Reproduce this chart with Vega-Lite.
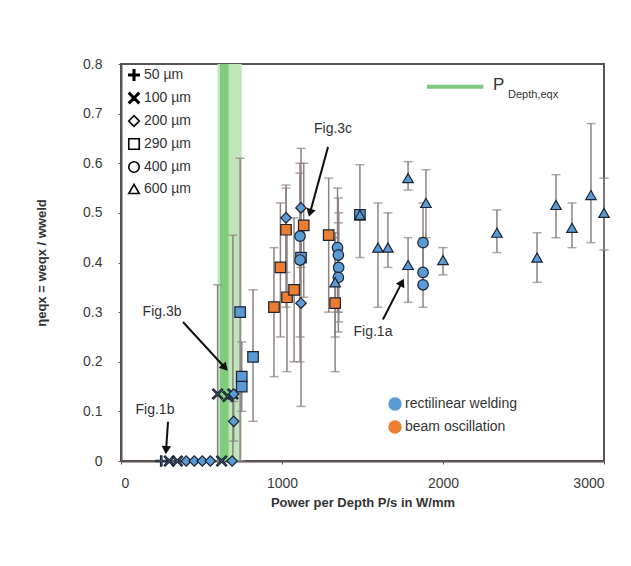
{
  "$schema": "https://vega.github.io/schema/vega-lite/v6.json",
  "width": 483,
  "height": 397,
  "autosize": "none",
  "padding": {"left": 121, "top": 64, "right": 27, "bottom": 105},
  "background": "white",
  "config": {
    "font": "Liberation Sans",
    "view": {"stroke": "#5b5353", "strokeWidth": 2},
    "axis": {"grid": false, "domainColor": "#5b5353", "domainWidth": 2, "tickColor": "#5b5353", "tickSize": 3, "labelFontSize": 14, "labelColor": "#3a3a3a", "titleFontSize": 13, "titleFontWeight": "bold", "titleColor": "#333333"}
  },
  "datasets": {
    "pts": [
      {"x": 250, "y": 0, "s": "50 µm", "p": "rectilinear welding"},
      {"x": 300, "y": 0, "s": "100 µm", "p": "rectilinear welding"},
      {"x": 350, "y": 0, "s": "100 µm", "p": "rectilinear welding"},
      {"x": 405, "y": 0, "s": "200 µm", "p": "rectilinear welding"},
      {"x": 455, "y": 0, "s": "200 µm", "p": "rectilinear welding"},
      {"x": 505, "y": 0, "s": "200 µm", "p": "rectilinear welding"},
      {"x": 555, "y": 0, "s": "200 µm", "p": "rectilinear welding"},
      {"x": 625, "y": 0, "s": "100 µm", "p": "rectilinear welding"},
      {"x": 690, "y": 0, "s": "200 µm", "p": "rectilinear welding"},
      {"x": 600, "y": 0.135, "lo": 0, "hi": 0.355, "s": "100 µm", "p": "rectilinear welding"},
      {"x": 665, "y": 0.13, "s": "100 µm", "p": "rectilinear welding"},
      {"x": 695, "y": 0.135, "lo": 0, "hi": 0.455, "s": "100 µm", "p": "rectilinear welding"},
      {"x": 700, "y": 0.135, "s": "200 µm", "p": "rectilinear welding"},
      {"x": 700, "y": 0.08, "lo": 0.04, "hi": 0.12, "s": "200 µm", "p": "rectilinear welding"},
      {"x": 740, "y": 0.30, "lo": 0, "hi": 0.61, "s": "290 µm", "p": "rectilinear welding"},
      {"x": 750, "y": 0.17, "lo": 0.1, "hi": 0.24, "s": "290 µm", "p": "rectilinear welding"},
      {"x": 750, "y": 0.15, "s": "290 µm", "p": "rectilinear welding"},
      {"x": 820, "y": 0.21, "lo": 0.08, "hi": 0.345, "s": "290 µm", "p": "rectilinear welding"},
      {"x": 950, "y": 0.31, "lo": 0.17, "hi": 0.43, "s": "290 µm", "p": "beam oscillation"},
      {"x": 990, "y": 0.39, "lo": 0.25, "hi": 0.52, "s": "290 µm", "p": "beam oscillation"},
      {"x": 1025, "y": 0.466, "lo": 0.31, "hi": 0.55, "s": "290 µm", "p": "beam oscillation"},
      {"x": 1031, "y": 0.33, "lo": 0.18, "hi": 0.47, "s": "290 µm", "p": "beam oscillation"},
      {"x": 1075, "y": 0.345, "lo": 0.2, "hi": 0.49, "s": "290 µm", "p": "beam oscillation"},
      {"x": 1135, "y": 0.475, "lo": 0.33, "hi": 0.6, "s": "290 µm", "p": "beam oscillation"},
      {"x": 1290, "y": 0.455, "lo": 0.3, "hi": 0.57, "s": "290 µm", "p": "beam oscillation"},
      {"x": 1330, "y": 0.318, "lo": 0.18, "hi": 0.46, "s": "290 µm", "p": "beam oscillation"},
      {"x": 1025, "y": 0.49, "lo": 0.38, "hi": 0.556, "s": "200 µm", "p": "rectilinear welding"},
      {"x": 1118, "y": 0.51, "lo": 0.39, "hi": 0.63, "s": "200 µm", "p": "rectilinear welding"},
      {"x": 1112, "y": 0.453, "lo": 0.25, "hi": 0.6, "s": "400 µm", "p": "rectilinear welding"},
      {"x": 1118, "y": 0.41, "s": "290 µm", "p": "rectilinear welding"},
      {"x": 1112, "y": 0.405, "lo": 0.2, "hi": 0.58, "s": "400 µm", "p": "rectilinear welding"},
      {"x": 1118, "y": 0.318, "lo": 0.11, "hi": 0.45, "s": "200 µm", "p": "rectilinear welding"},
      {"x": 1345, "y": 0.43, "lo": 0.3, "hi": 0.55, "s": "400 µm", "p": "rectilinear welding"},
      {"x": 1350, "y": 0.415, "lo": 0.3, "hi": 0.53, "s": "400 µm", "p": "rectilinear welding"},
      {"x": 1352, "y": 0.39, "lo": 0.28, "hi": 0.5, "s": "400 µm", "p": "rectilinear welding"},
      {"x": 1350, "y": 0.37, "lo": 0.26, "hi": 0.48, "s": "400 µm", "p": "rectilinear welding"},
      {"x": 1330, "y": 0.36, "lo": 0.25, "hi": 0.45, "s": "600 µm", "p": "rectilinear welding"},
      {"x": 1484, "y": 0.496, "lo": 0.41, "hi": 0.597, "s": "290 µm", "p": "rectilinear welding"},
      {"x": 1484, "y": 0.496, "s": "600 µm", "p": "rectilinear welding"},
      {"x": 1596, "y": 0.43, "lo": 0.31, "hi": 0.52, "s": "600 µm", "p": "rectilinear welding"},
      {"x": 1658, "y": 0.43, "lo": 0.39, "hi": 0.5, "s": "600 µm", "p": "rectilinear welding"},
      {"x": 1783, "y": 0.57, "lo": 0.546, "hi": 0.603, "s": "600 µm", "p": "rectilinear welding"},
      {"x": 1894, "y": 0.52, "lo": 0.45, "hi": 0.587, "s": "600 µm", "p": "rectilinear welding"},
      {"x": 1783, "y": 0.395, "lo": 0.32, "hi": 0.45, "s": "600 µm", "p": "rectilinear welding"},
      {"x": 2000, "y": 0.405, "lo": 0.375, "hi": 0.43, "s": "600 µm", "p": "rectilinear welding"},
      {"x": 2335, "y": 0.46, "lo": 0.42, "hi": 0.506, "s": "600 µm", "p": "rectilinear welding"},
      {"x": 2584, "y": 0.41, "lo": 0.36, "hi": 0.46, "s": "600 µm", "p": "rectilinear welding"},
      {"x": 2702, "y": 0.516, "lo": 0.45, "hi": 0.577, "s": "600 µm", "p": "rectilinear welding"},
      {"x": 2801, "y": 0.47, "lo": 0.43, "hi": 0.52, "s": "600 µm", "p": "rectilinear welding"},
      {"x": 2919, "y": 0.536, "lo": 0.44, "hi": 0.68, "s": "600 µm", "p": "rectilinear welding"},
      {"x": 3000, "y": 0.5, "lo": 0.425, "hi": 0.57, "s": "600 µm", "p": "rectilinear welding"},
      {"x": 1876, "y": 0.44, "lo": 0.36, "hi": 0.52, "s": "400 µm", "p": "rectilinear welding"},
      {"x": 1876, "y": 0.38, "s": "400 µm", "p": "rectilinear welding"},
      {"x": 1876, "y": 0.355, "lo": 0.31, "hi": 0.45, "s": "400 µm", "p": "rectilinear welding"}
    ],
    "band": [
      {"x": 600, "x2": 750, "k": "light"},
      {"x": 615, "x2": 668, "k": "dark"}
    ],
    "ann": [
      {"x": 1317, "y": 0.67, "t": "Fig.3c"},
      {"x": 255, "y": 0.30, "t": "Fig.3b"},
      {"x": 211, "y": 0.103, "t": "Fig.1b"},
      {"x": 1565, "y": 0.26, "t": "Fig.1a"}
    ],
    "arrows": [
      {"x": 1286, "y": 0.633, "x2": 1174, "y2": 0.5, "a": 195},
      {"x": 385, "y": 0.28, "x2": 646, "y2": 0.188, "a": 138},
      {"x": 292, "y": 0.079, "x2": 280, "y2": 0.022, "a": 184},
      {"x": 1627, "y": 0.285, "x2": 1745, "y2": 0.36, "a": 27}
    ],
    "pleg": [
      {"x": 1900, "x2": 2250, "y": 0.754}
    ]
  },
  "layer": [
    {
      "data": {"name": "band"},
      "mark": {"type": "rect", "clip": true},
      "encoding": {
        "x": {"field": "x", "type": "quantitative", "scale": {"domain": [0, 3000], "nice": false}, "title": "Power per Depth P/s in W/mm"},
        "x2": {"field": "x2"},
        "y": {"datum": 0, "title": "ηeqx = weqx / wweld"},
        "y2": {"datum": 0.8},
        "color": {"field": "k", "type": "nominal", "scale": {"domain": ["light", "dark"], "range": ["#bfe5bb", "#7fcc7c"]}, "legend": null}
      }
    },
    {
      "data": {"name": "pts"},
      "transform": [{"filter": "isValid(datum.lo)"}],
      "mark": {"type": "errorbar", "ticks": {"size": 9, "color": "#8c8282", "thickness": 1.5}, "rule": {"color": "#8c8282", "strokeWidth": 1.5}},
      "encoding": {
        "x": {"field": "x", "type": "quantitative", "title": "Power per Depth P/s in W/mm"},
        "y": {"field": "lo", "type": "quantitative", "title": "ηeqx = weqx / wweld"},
        "y2": {"field": "hi"}
      }
    },
    {
      "data": {"name": "pts"},
      "mark": {"type": "point", "filled": true, "size": 110, "stroke": "#1c2230", "strokeWidth": 1.2, "opacity": 1},
      "encoding": {
        "x": {"field": "x", "type": "quantitative", "title": "Power per Depth P/s in W/mm",
              "axis": {"values": [0, 1000, 2000, 3000], "format": "d", "labelPadding": 12, "titlePadding": 6}},
        "y": {"field": "y", "type": "quantitative", "title": "ηeqx = weqx / wweld",
              "scale": {"domain": [0, 0.8], "nice": false},
              "axis": {"values": [0, 0.1, 0.2, 0.3, 0.4, 0.5, 0.6, 0.7, 0.8], "labelPadding": 16, "titlePadding": 34, "labelExpr": "datum.value == 0 ? '0' : format(datum.value, '.1f')"}},
        "shape": {"field": "s", "type": "nominal",
                  "scale": {"domain": ["50 µm", "100 µm", "200 µm", "290 µm", "400 µm", "600 µm"],
                            "range": ["M-0.14,-1L0.14,-1L0.14,-0.14L1,-0.14L1,0.14L0.14,0.14L0.14,1L-0.14,1L-0.14,0.14L-1,0.14L-1,-0.14L-0.14,-0.14Z", "M-1,-0.8L-0.8,-1L0,-0.2L0.8,-1L1,-0.8L0.2,0L1,0.8L0.8,1L0,0.2L-0.8,1L-1,0.8L-0.2,0Z", "diamond", "square", "circle", "triangle-up"]},
                  "legend": {"orient": "none", "legendX": 6, "legendY": 4, "title": null, "labelFontSize": 14, "labelColor": "#333333", "symbolSize": 110, "symbolStrokeColor": "black", "symbolFillColor": "transparent", "symbolStrokeWidth": 1.6, "rowPadding": 5, "labelOffset": 3}},
        "fill": {"field": "p", "type": "nominal",
                 "scale": {"domain": ["rectilinear welding", "beam oscillation"], "range": ["#5b9bd5", "#ed7d31"]},
                 "legend": {"orient": "none", "legendX": 267, "legendY": 333, "title": null, "labelFontSize": 14, "labelColor": "#333333", "symbolType": "circle", "symbolSize": 180, "symbolStrokeWidth": 0, "rowPadding": 9, "labelOffset": 3}}
      }
    },
    {
      "data": {"name": "arrows"},
      "mark": {"type": "rule", "color": "#111111", "strokeWidth": 2},
      "encoding": {
        "x": {"field": "x", "type": "quantitative"},
        "y": {"field": "y", "type": "quantitative"},
        "x2": {"field": "x2"},
        "y2": {"field": "y2"}
      }
    },
    {
      "data": {"name": "arrows"},
      "mark": {"type": "point", "shape": "triangle-up", "filled": true, "color": "#111111", "size": 90, "opacity": 1},
      "encoding": {
        "x": {"field": "x2", "type": "quantitative"},
        "y": {"field": "y2", "type": "quantitative"},
        "angle": {"field": "a", "type": "quantitative", "scale": null}
      }
    },
    {
      "data": {"name": "ann"},
      "mark": {"type": "text", "fontSize": 14, "color": "#333333", "align": "center", "baseline": "middle"},
      "encoding": {
        "x": {"field": "x", "type": "quantitative"},
        "y": {"field": "y", "type": "quantitative"},
        "text": {"field": "t"}
      }
    },
    {
      "data": {"name": "pleg"},
      "mark": {"type": "rule", "color": "#7fc97f", "strokeWidth": 4},
      "encoding": {
        "x": {"field": "x", "type": "quantitative"},
        "x2": {"field": "x2"},
        "y": {"field": "y", "type": "quantitative"}
      }
    },
    {
      "data": {"values": [{"x": 2311, "y": 0.757, "t": "P", "f": 17}, {"x": 2404, "y": 0.738, "t": "Depth,eqx", "f": 11}]},
      "mark": {"type": "text", "color": "#333333", "align": "left", "baseline": "middle"},
      "encoding": {
        "x": {"field": "x", "type": "quantitative"},
        "y": {"field": "y", "type": "quantitative"},
        "text": {"field": "t"},
        "size": {"field": "f", "type": "quantitative", "scale": null}
      }
    }
  ]
}
